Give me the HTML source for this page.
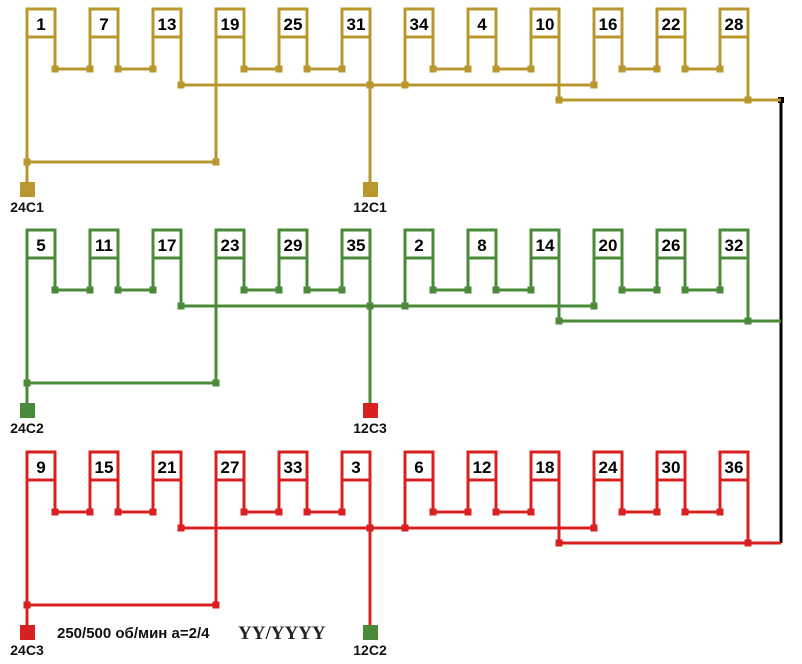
<!DOCTYPE html>
<html><head><meta charset="utf-8"><style>
html,body{margin:0;padding:0;background:#fff;width:802px;height:664px;overflow:hidden}
svg{display:block}
text{font-family:"Liberation Sans",sans-serif;font-weight:bold}
</style></head><body>
<svg id="s" width="802" height="664" viewBox="0 0 802 664" xmlns="http://www.w3.org/2000/svg">
<line x1="781" y1="100" x2="781" y2="543" stroke="#000" stroke-width="3"/>
<rect x="778" y="97" width="6" height="6" fill="#000"/>
<text x="57" y="638" font-size="15" fill="#111">250/500 об/мин a=2/4</text>
<text x="238" y="639" font-size="19" fill="#222" style="font-family:'Liberation Serif',serif">YY/YYYY</text>
</svg>
<script>
var s=document.getElementById('s');
var NS='http://www.w3.org/2000/svg';
function el(t,a,txt){var e=document.createElementNS(NS,t);for(var k in a)e.setAttribute(k,a[k]);if(txt!==undefined)e.textContent=txt;s.appendChild(e);return e;}
var groups=[
 {dy:0,c:'#b8982e',nums:[1,7,13,19,25,31,34,4,10,16,22,28],t1:['24C1','#b8982e'],t2:['12C1','#b8982e']},
 {dy:221,c:'#4a8a3a',nums:[5,11,17,23,29,35,2,8,14,20,26,32],t1:['24C2','#4a8a3a'],t2:['12C3','#d92020']},
 {dy:443,c:'#d92020',nums:[9,15,21,27,33,3,6,12,18,24,30,36],t1:['24C3','#d92020'],t2:['12C2','#4a8a3a']}
];
groups.forEach(function(g){
 var d=g.dy,c=g.c;
 function L(i){return 27+63*i;} function R(i){return L(i)+28;}
 function line(x1,y1,x2,y2){el('line',{x1:x1,y1:y1+d,x2:x2,y2:y2+d,stroke:c,'stroke-width':3});}
 function dot(x,y){el('rect',{x:x-3.5,y:y+d-3.5,width:7,height:7,fill:c});}
 var yp=69,yb=85,yl=100,yt=162;
 [[0,1],[1,2],[3,4],[4,5],[6,7],[7,8],[9,10],[10,11]].forEach(function(p){
   line(R(p[0]),38,R(p[0]),yp);line(L(p[1]),38,L(p[1]),yp);line(R(p[0]),yp,L(p[1]),yp);dot(R(p[0]),yp);dot(L(p[1]),yp);
 });
 line(R(2),38,R(2),yb);line(L(6),38,L(6),yb);line(L(9),38,L(9),yb);
 line(R(2),yb,L(9),yb);dot(R(2),yb);dot(L(6),yb);dot(L(9),yb);dot(R(5),yb);
 line(R(8),38,R(8),yl);line(R(11),38,R(11),yl);line(R(8),yl,781,yl);dot(R(8),yl);dot(R(11),yl);
 line(L(0),38,L(0),182);line(L(3),38,L(3),yt);line(L(0),yt,L(3),yt);dot(L(0),yt);dot(L(3),yt);
 line(R(5),38,R(5),182);
 g.nums.forEach(function(n,i){
   el('rect',{x:L(i),y:9+d,width:28,height:28,fill:'#fff',stroke:c,'stroke-width':3});
   el('text',{x:L(i)+14,y:30+d,'font-size':17,'text-anchor':'middle',fill:'#000'},String(n));
 });
 el('rect',{x:L(0)-7,y:182+d,width:15,height:15,fill:g.t1[1]});
 el('text',{x:L(0),y:212+d,'font-size':14,'text-anchor':'middle',fill:'#111'},g.t1[0]);
 el('rect',{x:R(5)-7,y:182+d,width:15,height:15,fill:g.t2[1]});
 el('text',{x:R(5),y:212+d,'font-size':14,'text-anchor':'middle',fill:'#111'},g.t2[0]);
});
</script>
</body></html>
